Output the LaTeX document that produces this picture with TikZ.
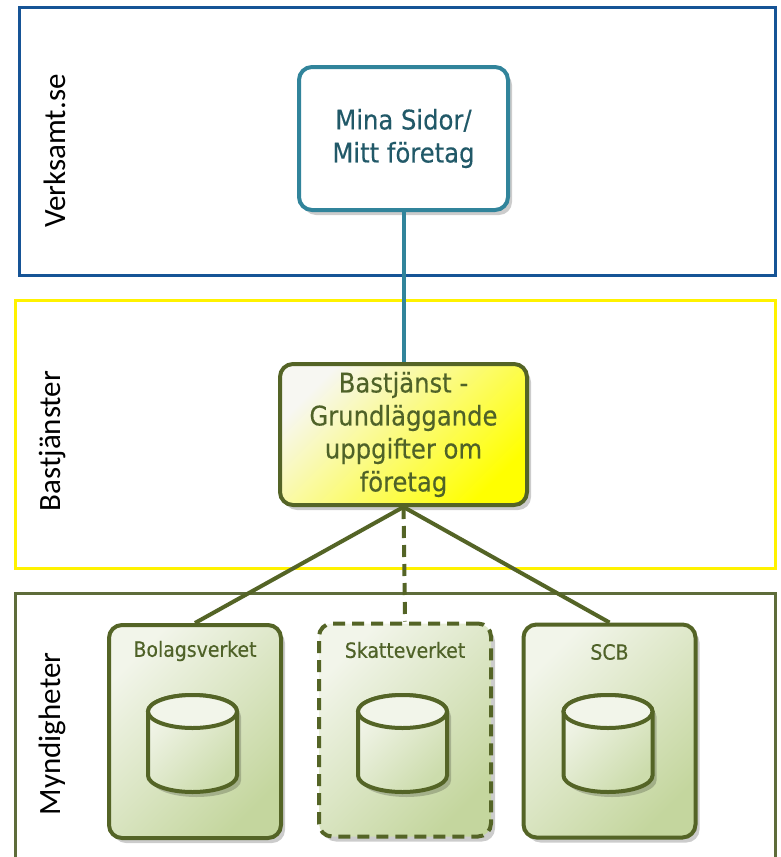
\documentclass[tikz,border=0pt]{standalone}
\usepackage{fontspec}
\newfontfamily\lanefont{Carlito}
\newfontfamily\boxfont[FakeBold=0.35]{DejaVu Sans Condensed}
\usetikzlibrary{shadows}
\definecolor{laneblue}{RGB}{22,84,150}
\definecolor{laneyellow}{RGB}{255,242,0}
\definecolor{laneolive}{RGB}{94,108,58}
\definecolor{myolive}{RGB}{84,100,38}
\definecolor{myoltext}{RGB}{79,98,40}
\definecolor{myteal}{RGB}{49,132,155}
\definecolor{mytealtext}{RGB}{33,89,104}
\definecolor{agtl}{RGB}{242,245,234}
\definecolor{agbr}{RGB}{196,214,158}
\definecolor{cytl}{RGB}{242,245,234}
\definecolor{cybr}{RGB}{204,220,172}
\definecolor{bastl}{RGB}{247,247,242}
\definecolor{basmid}{RGB}{242,243,196}
\definecolor{basbr}{RGB}{255,255,0}
\begin{document}
\begin{tikzpicture}[x=1pt,y=-1pt,
  lane/.style={line width=3pt},
  lanelabel/.style={rotate=90,anchor=base,font=\lanefont\fontsize{31}{36}\selectfont,text=black,inner sep=0pt},
  shadowed/.style={drop shadow={shadow xshift=4pt,shadow yshift=-5pt,fill=black,opacity=0.2}},
  boxtext/.style={font=\boxfont\fontsize{27}{33}\selectfont,align=center},
  topbox/.style={draw=myteal,line width=4pt,rounded corners=13pt,fill=white,shadowed,
    minimum width=209pt,minimum height=143pt,inner sep=0pt,boxtext,text=mytealtext},
  basbox/.style={draw=myolive,line width=4pt,rounded corners=13pt,shadowed,
    top color=bastl,middle color=basmid,bottom color=basbr,shading angle=45,
    minimum width=247pt,minimum height=141pt,inner sep=0pt,boxtext,text=myoltext},
  agbox/.style={draw=myolive,line width=4pt,rounded corners=13pt,shadowed,
    top color=agtl,bottom color=agbr,shading angle=45,
    minimum width=172pt,minimum height=213pt,inner sep=0pt},
  aglabel/.style={font=\boxfont\fontsize{21}{25}\selectfont,text=myoltext,inner sep=0pt},
  conn/.style={line width=4pt},
  dashpat/.style={dash pattern=on 12pt off 7pt},
  cylbody/.style={draw=myolive,line width=4pt,top color=cytl,bottom color=cybr,shading angle=45,shadowed},
  cyltop/.style={draw=myolive,line width=4pt,fill=cytl}
]
\useasboundingbox (0,0) rectangle (780,857);
\fill[white] (0,0) rectangle (780,857);

% lanes
\draw[lane,draw=laneblue] (19,7) rectangle (775,275);
\draw[lane,draw=laneyellow] (15,300) rectangle (775,568);
\draw[lane,draw=laneolive] (15,593) rectangle (775,866);

\node[lanelabel] (l1) at (65,151) {Verksamt.se};
\node[lanelabel] (l2) at (60,441) {Bastjänster};
\node[lanelabel] (l3) at (60,734) {Myndigheter};

% boxes
\node[topbox] (mina) at (403.5,138.5) {Mina Sidor/\\Mitt företag};
\node[basbox] (bas) at (403.5,434.5) {Bastjänst -\\Grundläggande\\uppgifter om\\företag};

\node[agbox] (bol) at (195,731.5) {};
\node[agbox,dashpat] (skat) at (405,730) {};
\node[agbox] (scb) at (609.5,731) {};

\node[aglabel] (bolt) at (195,651) {Bolagsverket};
\node[aglabel] (skatt) at (405,650) {Skatteverket};
\node[aglabel] (scbt) at (609.5,652) {SCB};

% connectors
\draw[conn,draw=myteal] (mina.south) -- (bas.north);
\draw[conn,draw=myolive] (bas.south) -- (bol.north);
\draw[conn,draw=myolive] (bas.south) -- (scb.north);
\draw[conn,draw=myolive,dashpat] (bas.south) -- (skat.north);

% cylinders
\foreach \cx in {192.5,402.5,608}{
  \path[cylbody] (\cx-44.5,711.5) -- (\cx-44.5,775.5)
     arc[start angle=180,end angle=0,x radius=44.5,y radius=16.5]
     -- (\cx+44.5,711.5)
     arc[start angle=0,end angle=-180,x radius=44.5,y radius=16.5] -- cycle;
  \draw[cyltop] (\cx,711.5) ellipse[x radius=44.5,y radius=16.5];
}
\end{tikzpicture}
\end{document}
